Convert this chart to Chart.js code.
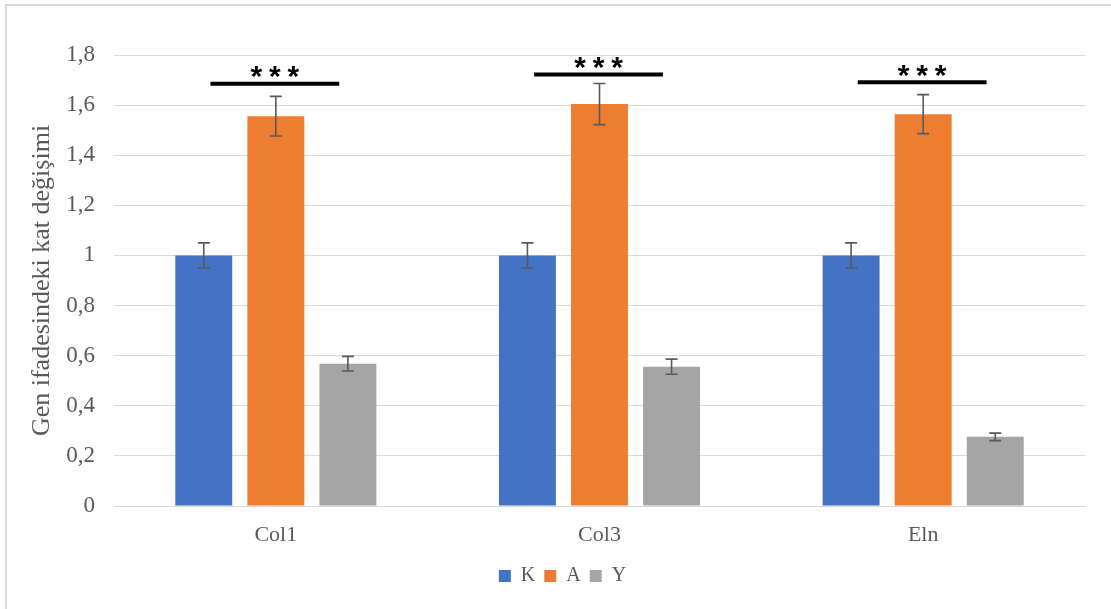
<!DOCTYPE html>
<html>
<head>
<meta charset="utf-8">
<script src="https://cdn.jsdelivr.net/npm/chart.js@4/dist/chart.umd.min.js"></script>
<style>
  html, body { margin: 0; padding: 0; background: #fff; }
  #wrap { position: relative; width: 1111px; height: 609px; }
  #frame { position: absolute; left: 5px; top: 4px; right: -10px; bottom: -10px;
           border-top: 2px solid #d9d9d9; border-left: 2px solid #d9d9d9; pointer-events: none; }
  canvas { position: absolute; left: 0; top: 0; }
</style>
</head>
<body>
<div id="wrap">
  <canvas id="c" width="1111" height="609"></canvas>
  <div id="frame"></div>
</div>
<script>
// Genes on the x axis
const categories = ['Col1', 'Col3', 'Eln'];

// Group names for the legend
const groupNames = ['K', 'A', 'Y'];

// Mean fold change per gene for each group
const valuesK = [1.0, 1.0, 1.0];
const valuesA = [1.556, 1.604, 1.564];
const valuesY = [0.568, 0.556, 0.276];

// Error bar half-lengths
const errorsK = [0.05, 0.05, 0.05];
const errorsA = [0.079, 0.082, 0.078];
const errorsY = [0.029, 0.03, 0.015];

// Significance brackets: level on the y axis and label
const sigLevels = [1.685, 1.722, 1.691];
const sigLabels = ['***', '***', '***'];

// Y axis ticks
const yTicks = [0, 0.2, 0.4, 0.6, 0.8, 1, 1.2, 1.4, 1.6, 1.8];

const colors = ['#4472C4', '#ED7D31', '#A5A5A5'];
const textColor = '#595959';
const gridColor = '#d9d9d9';
const serif = '"Liberation Serif", "Times New Roman", serif';

const seriesValues = [valuesK, valuesA, valuesY];
const seriesErrors = [errorsK, errorsA, errorsY];

// Draws vertical error bars with caps on top of every bar
const errorBarPlugin = {
  id: 'errorBars',
  afterDatasetsDraw(chart) {
    const ctx = chart.ctx;
    const y = chart.scales.y;
    ctx.save();
    ctx.strokeStyle = '#595959';
    ctx.lineWidth = 1.6;
    chart.data.datasets.forEach((ds, di) => {
      const meta = chart.getDatasetMeta(di);
      meta.data.forEach((bar, i) => {
        const v = ds.data[i];
        const e = ds.errors[i];
        const yTop = y.getPixelForValue(v + e);
        const yBot = y.getPixelForValue(v - e);
        const cap = 6;
        ctx.beginPath();
        ctx.moveTo(bar.x, yTop); ctx.lineTo(bar.x, yBot);
        ctx.moveTo(bar.x - cap, yTop); ctx.lineTo(bar.x + cap, yTop);
        ctx.moveTo(bar.x - cap, yBot); ctx.lineTo(bar.x + cap, yBot);
        ctx.stroke();
      });
    });
    ctx.restore();
  }
};

// Draws the significance line and asterisks above each gene
const significancePlugin = {
  id: 'significance',
  afterDatasetsDraw(chart) {
    const ctx = chart.ctx;
    const xs = chart.scales.x;
    const ys = chart.scales.y;
    const catW = (xs.right - xs.left) / categories.length;
    ctx.save();
    sigLevels.forEach((lvl, i) => {
      const cx = xs.getPixelForValue(i) - 1;
      const half = catW * 0.199;
      const py = ys.getPixelForValue(lvl);
      ctx.strokeStyle = '#000';
      ctx.lineWidth = 4;
      ctx.beginPath();
      ctx.moveTo(cx - half, py);
      ctx.lineTo(cx + half, py);
      ctx.stroke();
      ctx.fillStyle = '#000';
      ctx.font = 'bold 30px "Liberation Sans", Arial, sans-serif';
      ctx.textAlign = 'center';
      ctx.textBaseline = 'middle';
      const chars = sigLabels[i].split('');
      const pitch = 18.5;
      chars.forEach((ch, k) => {
        const dx = (k - (chars.length - 1) / 2) * pitch;
        ctx.fillText(ch, cx + dx, py - 6);
      });
    });
    ctx.restore();
  }
};

// Nudges the legend row so it sits under the plot like the original layout
const legendShiftPlugin = {
  id: 'legendShift',
  afterLayout(chart) {
    const lg = chart.legend;
    if (lg) { lg.left += 10; lg.right += 10; lg.top += 3; lg.bottom += 3; }
  }
};

new Chart(document.getElementById('c'), {
  type: 'bar',
  data: {
    labels: categories,
    datasets: groupNames.map((name, k) => ({
      label: name,
      data: seriesValues[k],
      errors: seriesErrors[k],
      backgroundColor: colors[k],
      borderWidth: 0,
      categoryPercentage: 0.668,
      barPercentage: 0.79
    }))
  },
  options: {
    responsive: false,
    animation: false,
    devicePixelRatio: 1,
    layout: { padding: { left: 20, right: 26, top: 55, bottom: 16 } },
    plugins: {
      legend: {
        position: 'bottom',
        labels: {
          boxWidth: 12,
          boxHeight: 12,
          padding: 9,
          color: textColor,
          font: { family: serif, size: 20 }
        }
      },
      tooltip: { enabled: false }
    },
    scales: {
      x: {
        grid: { display: false, drawTicks: false },
        border: { display: true, color: gridColor, width: 1 },
        ticks: { color: textColor, font: { family: serif, size: 22 }, padding: 16 },
        afterFit(scale) { scale.height = 48; }
      },
      y: {
        min: 0,
        max: 1.8,
        afterBuildTicks(scale) { scale.ticks = yTicks.map(v => ({ value: v })); },
        grid: { color: gridColor, lineWidth: 1, drawTicks: false },
        border: { display: false },
        ticks: {
          color: textColor,
          font: { family: serif, size: 23 },
          padding: 19,
          callback: v => String(v).replace('.', ',')
        },
        title: {
          display: true,
          text: 'Gen ifadesindeki kat değişimi',
          color: textColor,
          font: { family: serif, size: 26 },
          padding: { top: 7, bottom: 0 }
        },
        afterFit(scale) { scale.width = 94; }
      }
    }
  },
  plugins: [errorBarPlugin, significancePlugin, legendShiftPlugin]
});
</script>
</body>
</html>
